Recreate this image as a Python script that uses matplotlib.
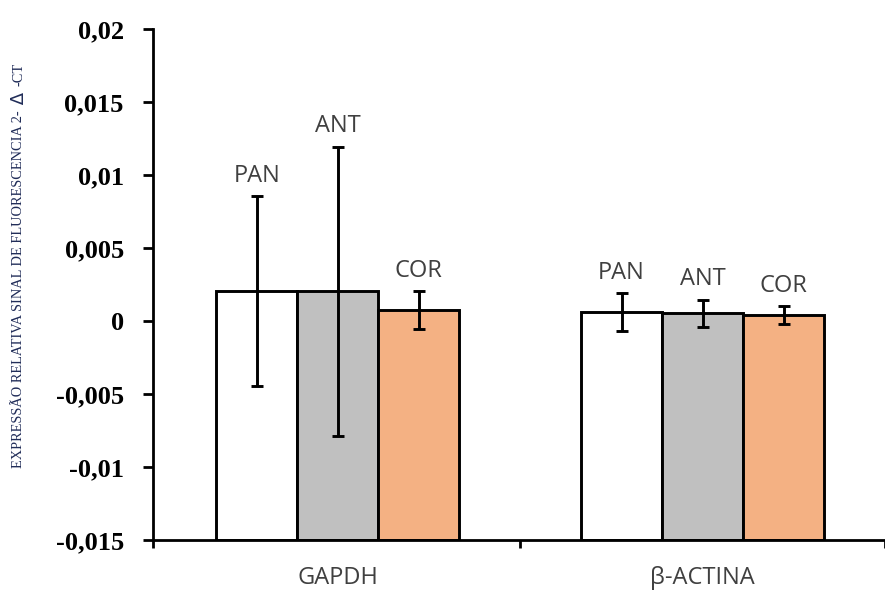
import numpy as np
import matplotlib
matplotlib.use("Agg")
import matplotlib.pyplot as plt

# data
genes = ["GAPDH", "β-ACTINA"]
groups = ["PAN", "ANT", "COR"]
pan = [0.00203, 0.00062]
ant = [0.00203, 0.00052]
cor = [0.00075, 0.00040]
pan_err = [0.00650, 0.00128]
ant_err = [0.00990, 0.00095]
cor_err = [0.00128, 0.00060]

yticks = [-0.015, -0.01, -0.005, 0, 0.005, 0.01, 0.015, 0.02]
ytick_labels = ["-0,015", "-0,01", "-0,005", "0", "0,005", "0,01", "0,015", "0,02"]

colors = ["#FFFFFF", "#C0C0C0", "#F4B183"]
base = -0.015

fig = plt.figure(figsize=(8.85, 5.9), dpi=100)
ax = fig.add_axes([153 / 885, 1 - 540 / 590, 732 / 885, 511 / 590])

x = np.arange(len(genes))
w = 0.222
series = [pan, ant, cor]
errs = [pan_err, ant_err, cor_err]
for i, (vals, err, c, name) in enumerate(zip(series, errs, colors, groups)):
    xs = x + (i - 1) * w
    heights = np.array(vals) - base
    ax.bar(xs, heights, width=w, bottom=base, color=c, edgecolor="black",
           linewidth=2.1, zorder=2)
    ax.errorbar(xs, vals, yerr=err, fmt="none", ecolor="black", elinewidth=2.1,
                capsize=4.3, capthick=2.1, zorder=3)
    for xi, v, e in zip(xs, vals, err):
        ax.text(xi, v + e + 0.001, name, ha="center", va="baseline",
                fontsize=17, color="#404040", family="Open Sans")

ax.set_ylim(base, 0.02)
x0 = -187 / 369.5
ax.set_xlim(x0, x0 + 732 / 369.5)
ax.set_yticks(yticks)
ax.set_yticklabels(ytick_labels, fontsize=19, fontweight="bold",
                   family="Liberation Serif")
ax.tick_params(axis="y", direction="out", length=7, width=2, pad=14)

ax.set_xticks([x0, 0.5, 1.5])
ax.set_xticklabels([])
ax.set_xticks(x, minor=True)
ax.set_xticklabels(genes, minor=True, fontsize=17, color="#404040", family="Open Sans")
ax.tick_params(axis="x", which="major", direction="out", length=6, width=2)
ax.tick_params(axis="x", which="minor", length=0, pad=19)

for s in ["top", "right"]:
    ax.spines[s].set_visible(False)
for s in ["left", "bottom"]:
    ax.spines[s].set_linewidth(2)

# y label with a larger delta
ycol = "#202C58"
t1 = fig.text(19 / 885, 1 - 468 / 590, "EXPRESSÃO RELATIVA SINAL DE FLUORESCENCIA 2-",
              rotation=90, ha="center", va="bottom", fontsize=10.4,
              family="Liberation Serif", color=ycol)
t2 = ax.annotate(" Δ ", xy=(0.5, 1), xycoords=t1, rotation=90, ha="center",
                 va="bottom", fontsize=13, family="DejaVu Sans", color=ycol,
                 annotation_clip=False)
ax.annotate("-CT", xy=(0.5, 1), xycoords=t2, rotation=90, ha="center",
            va="bottom", fontsize=10.4, family="Liberation Serif", color=ycol,
            annotation_clip=False)

fig.savefig("out.png", dpi=100)
